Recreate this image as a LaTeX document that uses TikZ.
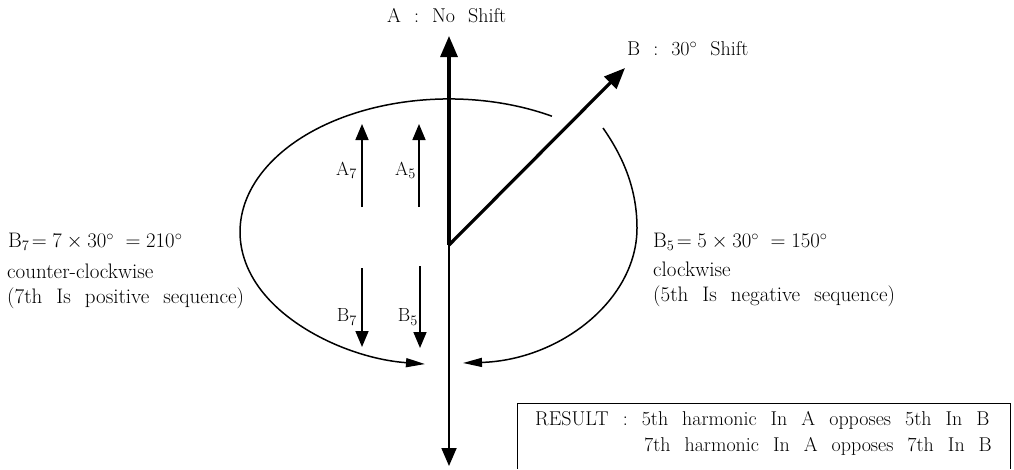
\documentclass[tikz,border=0pt]{standalone}
\usetikzlibrary{arrows.meta}
\newcommand\sidefont{\fontsize{21}{25}\selectfont\spaceskip=14pt plus 1pt\relax}
\newcommand\topfont{\fontsize{20}{24}\selectfont\spaceskip=13pt plus 1pt\relax}
\newcommand\resfont{\fontsize{20}{24}\selectfont\spaceskip=14pt plus 1pt\relax}
\newcommand\subfont{\fontsize{19}{22}\selectfont}
\begin{document}
\begin{tikzpicture}[x=1pt,y=-1pt,
  thickvec/.style={line width=3.2pt,-{Triangle[length=21pt,width=17pt]}},
  axisdown/.style={line width=1.8pt,-{Triangle[length=18pt,width=15pt]}},
  harm/.style={line width=1.6pt,-{Triangle[length=16pt,width=13pt]}},
  orbit/.style={line width=1.5pt,-{Triangle[length=19pt,width=9pt]}},
  lbl/.style={inner sep=0pt}]
\useasboundingbox (0,0) rectangle (1014,469);

% reference points
\coordinate (O) at (449,245);
\coordinate (Atop) at (449,36);
\coordinate (Abot) at (449,466);
\coordinate (Btip) at (625,68);
\coordinate (A7s) at (362,207); \coordinate (A7e) at (362,124);
\coordinate (A5s) at (419,207); \coordinate (A5e) at (419,124);
\coordinate (B7s) at (362,268); \coordinate (B7e) at (362,347);
\coordinate (B5s) at (420,266); \coordinate (B5e) at (420,348);

% rotation arcs
\draw[orbit] (551.9,116.2) arc[start angle=-60.5, end angle=-263.4, x radius=209, y radius=133];
\draw[orbit] (603,128) .. controls (624,158) and (637,190) .. (637,228)
                       .. controls (637,300) and (560,360) .. (463,363);

% main vectors
\draw[thickvec] (O) -- (Atop);
\draw[axisdown] (O) -- (Abot);
\draw[thickvec] (O) -- (Btip);

% harmonic vectors
\draw[harm] (A7s) -- (A7e);
\draw[harm] (A5s) -- (A5e);
\draw[harm] (B7s) -- (B7e);
\draw[harm] (B5s) -- (B5e);

% labels
\node[lbl,anchor=west,font=\topfont] (la) at (387,16) {A : No Shift};
\node[lbl,anchor=west,font=\topfont] (lb) at (627,49) {B : 30$^\circ$ Shift};
\node[lbl,anchor=east,font=\subfont] (la7) at (357,170) {A$_7$};
\node[lbl,anchor=east,font=\subfont] (la5) at (416,170) {A$_5$};
\node[lbl,anchor=east,font=\subfont] (lb7) at (357,317) {B$_7$};
\node[lbl,anchor=east,font=\subfont] (lb5) at (418,317) {B$_5$};

\node[lbl,anchor=west,font=\sidefont] (l1) at (8,242) {B$_7\!=7\times30^\circ\;=210^\circ$};
\node[lbl,anchor=west,font=\sidefont] (l2) at (7,271) {counter-clockwise};
\node[lbl,anchor=west,font=\sidefont] (l3) at (7,298) {(7th Is positive sequence)};

\node[lbl,anchor=west,font=\sidefont] (r1) at (653,242) {B$_5\!=5\times30^\circ\;=150^\circ$};
\node[lbl,anchor=west,font=\sidefont] (r2) at (653,269) {clockwise};
\node[lbl,anchor=west,font=\sidefont] (r3) at (653,296) {(5th Is negative sequence)};

% result box
\draw[line width=1pt] (1010,469) -- (1010,403) -- (517,403) -- (517,469);
\node[lbl,anchor=west,font=\resfont] (res1) at (535,420) {RESULT : 5th harmonic In A opposes 5th In B};
\node[lbl,anchor=east,font=\resfont] (res2) at (992,446) {7th harmonic In A opposes 7th In B};
\end{tikzpicture}
\end{document}
